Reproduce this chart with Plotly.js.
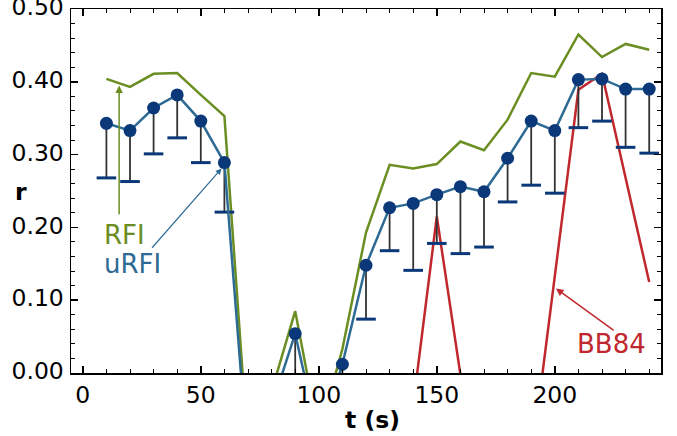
<!DOCTYPE html>
<html>
<head>
<meta charset="utf-8">
<script src="https://cdn.plot.ly/plotly-3.0.1.min.js"></script>
<style>html,body{margin:0;padding:0;background:#fff}#chart{width:677px;height:436px}</style>
</head>
<body>
<div id="chart"></div>
<script>
// Time (s)
const times = [10,20,30,40,50,60,70,80,90,100,110,120,130,140,150,160,170,180,190,200,210,220,230,240];
// RFI (green line)
const rfi = [0.404,0.393,0.411,0.412,0.382,0.353,-0.105,-0.025,0.085,-0.085,0.033,0.193,0.286,0.281,0.287,0.318,0.306,0.348,0.412,0.407,0.465,0.434,0.452,0.444];
// uRFI (blue line with markers)
const urfi = [0.343,0.333,0.364,0.382,0.346,0.289,-0.124,-0.046,0.054,-0.092,0.012,0.148,0.227,0.233,0.245,0.256,0.249,0.295,0.346,0.333,0.403,0.404,0.390,0.390];
// uRFI lower bound (end of one-sided error bar)
const urfiLower = [0.268,0.263,0.301,0.323,0.289,0.221,null,null,-0.03,null,-0.06,0.074,0.168,0.141,0.178,0.164,0.173,0.235,0.258,0.247,0.337,0.346,0.310,0.302];
// BB84 (red line)
const bb84 = [null,null,null,null,null,null,null,null,null,null,null,null,null,-0.044,0.215,-0.002,null,null,-0.123,0.133,0.389,0.411,0.270,0.125];
// Tick labels
const xTicks = [0,50,100,150,200];
const yTicks = [0,0.1,0.2,0.3,0.4,0.5];
const yTickText = ['0.00','0.10','0.20','0.30','0.40','0.50'];

const GREEN = '#6b8e23', BLUE = '#2e6b94', DOT = '#0a3878', RED = '#c0282e';
const FONT = 'DejaVu Sans, sans-serif';

const errMinus = urfi.map((v,i) => urfiLower[i] === null ? 0 : v - urfiLower[i]);
const errPlus = urfi.map(() => 0);

const traces = [
  {x: times, y: rfi, mode: 'lines', line: {color: GREEN, width: 2.5}, hoverinfo: 'skip'},
  {x: times, y: bb84, mode: 'lines', line: {color: RED, width: 2.5}, hoverinfo: 'skip'},
  {x: times, y: urfi, mode: 'markers', marker: {opacity: 0, size: 1},
   error_y: {type: 'data', symmetric: false, array: errPlus, arrayminus: errMinus, color: '#333333', thickness: 1.8, width: 0}},
  {x: times, y: urfiLower, mode: 'markers',
   marker: {symbol: 'line-ew', size: 14, color: DOT, line: {color: DOT, width: 3}}},
  {x: times, y: urfi, mode: 'lines+markers', line: {color: BLUE, width: 2.5},
   marker: {color: DOT, size: 13}}
];

const axisCommon = {
  ticks: 'inside', ticklen: 7, tickwidth: 1.5, tickcolor: '#000',
  showline: true, linecolor: '#000', linewidth: 1.5, mirror: 'ticks',
  showgrid: false, zeroline: false, ticklabeloverflow: 'allow',
  tickfont: {family: FONT, size: 23.5, color: '#000'}
};

const layout = {
  width: 677, height: 436,
  margin: {l: 71, r: 16, t: 9, b: 63},
  paper_bgcolor: '#fff', plot_bgcolor: '#fff',
  showlegend: false,
  font: {family: FONT, color: '#000'},
  xaxis: Object.assign({}, axisCommon, {
    range: [-5, 245], tickmode: 'array', tickvals: xTicks, ticklabelstandoff: 0,
    minor: {dtick: 10, tick0: 0, ticks: 'inside', ticklen: 4, tickwidth: 1, tickcolor: '#000'}
  }),
  yaxis: Object.assign({}, axisCommon, {
    range: [0, 0.5], tickmode: 'array', tickvals: yTicks, ticktext: yTickText, ticklabelstandoff: 1,
    ticklabelshift: -2,
    minor: {dtick: 0.02, tick0: 0, ticks: 'inside', ticklen: 4, tickwidth: 1, tickcolor: '#000'}
  }),
  annotations: [
    {xref: 'paper', yref: 'paper', x: 0.511, y: -0.129, xanchor: 'center', yanchor: 'middle',
     text: '<b>t (s)</b>', showarrow: false, font: {family: FONT, size: 23.5, color: '#000'}},
    {xref: 'paper', yref: 'paper', x: -0.085, y: 0.496, xanchor: 'center', yanchor: 'middle',
     text: '<b>r</b>', showarrow: false, font: {family: FONT, size: 23.5, color: '#000'}},
    {x: 8.0, y: 0.190, text: 'RFI', xanchor: 'left', yanchor: 'middle', showarrow: false, font: {family: FONT, size: 26, color: GREEN}},
    {x: 8.0, y: 0.150, text: 'uRFI', xanchor: 'left', yanchor: 'middle', showarrow: false, font: {family: FONT, size: 26, color: BLUE}},
    {x: 239.3, y: 0.04, text: 'BB84', xanchor: 'right', yanchor: 'middle', showarrow: false, font: {family: FONT, size: 26, color: RED}},
    {x: 15.4, y: 0.395, ax: 15.4, ay: 0.216, axref: 'x', ayref: 'y', text: '', showarrow: true,
     arrowhead: 2, arrowsize: 1, arrowwidth: 1.5, arrowcolor: GREEN, standoff: 0, startstandoff: 0},
    {x: 58.8, y: 0.281, ax: 28.8, ay: 0.170, axref: 'x', ayref: 'y', text: '', showarrow: true,
     arrowhead: 2, arrowsize: 1, arrowwidth: 1.2, arrowcolor: BLUE, standoff: 0, startstandoff: 0},
    {x: 200.5, y: 0.116, ax: 225.6, ay: 0.057, axref: 'x', ayref: 'y', text: '', showarrow: true,
     arrowhead: 2, arrowsize: 1, arrowwidth: 1.5, arrowcolor: RED, standoff: 0, startstandoff: 0}
  ]
};

Plotly.newPlot('chart', traces, layout, {staticPlot: true, displayModeBar: false});
</script>
</body>
</html>
